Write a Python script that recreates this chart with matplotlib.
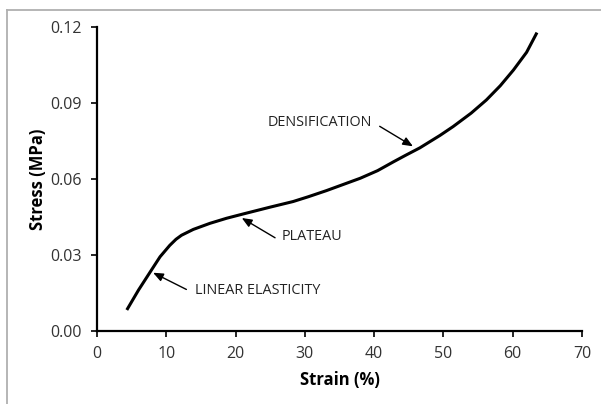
import matplotlib.pyplot as plt
from matplotlib.lines import Line2D

# curve
strain = [4.3, 6.0, 7.7, 9.1, 10.5, 11.4, 12.2, 13.9, 16.3, 18.7, 21.1, 25.0,
          28.3, 30.5, 33.1, 35.5, 38.0, 40.5, 42.8, 44.5, 46.6, 49.5,
          51.4, 54.0, 56.2, 58.2, 60.1, 62.0, 63.5]
stress = [0.0083, 0.0162, 0.0234, 0.0293, 0.0338, 0.0362, 0.0378, 0.0401, 0.0425,
          0.0445, 0.0462, 0.0489, 0.0511, 0.0530, 0.0554, 0.0578, 0.0603,
          0.0633, 0.0668, 0.0693, 0.0723, 0.0772, 0.0807, 0.0860, 0.0912,
          0.0968, 0.1030, 0.1100, 0.1178]

x_ticks = [0, 10, 20, 30, 40, 50, 60, 70]
y_ticks = [0.00, 0.03, 0.06, 0.09, 0.12]

# label, text position (left, centre), arrow tail, arrow head
notes = [
    ("LINEAR ELASTICITY", (14.1, 0.0158), (12.9, 0.0164), (8.1, 0.0230)),
    ("PLATEAU", (26.6, 0.0372), (25.7, 0.0368), (20.9, 0.0446)),
    ("DENSIFICATION", (24.6, 0.0822), (40.8, 0.0808), (45.6, 0.0729)),
]

plt.rcParams['font.family'] = ['Open Sans', 'DejaVu Sans']

fig = plt.figure(figsize=(6.01, 4.04), dpi=100)
ax = fig.add_axes([97 / 601, 1 - 331 / 404, 485 / 601, 304 / 404])

ax.plot(strain, stress, color='black', linewidth=2.2,
        solid_capstyle='butt', solid_joinstyle='round')

for label, txt, tail, head in notes:
    ax.text(txt[0], txt[1], label, fontsize=10.4, color='#222222',
            ha='left', va='center')
    ax.annotate('', xy=head, xytext=tail,
                arrowprops=dict(arrowstyle='-|>,head_length=0.6,head_width=0.25',
                                color='black', lw=1.0, shrinkA=0, shrinkB=0))

ax.set_xlim(0, 70)
ax.set_ylim(0, 0.12)
ax.set_xticks(x_ticks)
ax.set_yticks(y_ticks)
ax.set_yticklabels([f"{v:.2f}" for v in y_ticks])
ax.tick_params(direction='out', length=4, width=1.2, colors='black',
               labelsize=11.5, labelcolor='#333333')
ax.tick_params(axis='x', pad=7)
ax.tick_params(axis='y', pad=7)

for side in ['top', 'right']:
    ax.spines[side].set_visible(False)
for side in ['left', 'bottom']:
    ax.spines[side].set_linewidth(1.6)

ax.set_xlabel("Strain (%)", fontsize=12, fontweight='bold', labelpad=6)
ax.set_ylabel("Stress (MPa)", fontsize=12, fontweight='bold', labelpad=2)

# grey frame of the chart area (only top and left visible)
fig.add_artist(Line2D([6.5 / 601, 1], [1 - 9.5 / 404, 1 - 9.5 / 404],
                      color='#b0b0b0', lw=1.3, transform=fig.transFigure))
fig.add_artist(Line2D([6.5 / 601, 6.5 / 601], [0, 1 - 9.5 / 404],
                      color='#b0b0b0', lw=1.3, transform=fig.transFigure))

fig.savefig("out.png", dpi=100)
